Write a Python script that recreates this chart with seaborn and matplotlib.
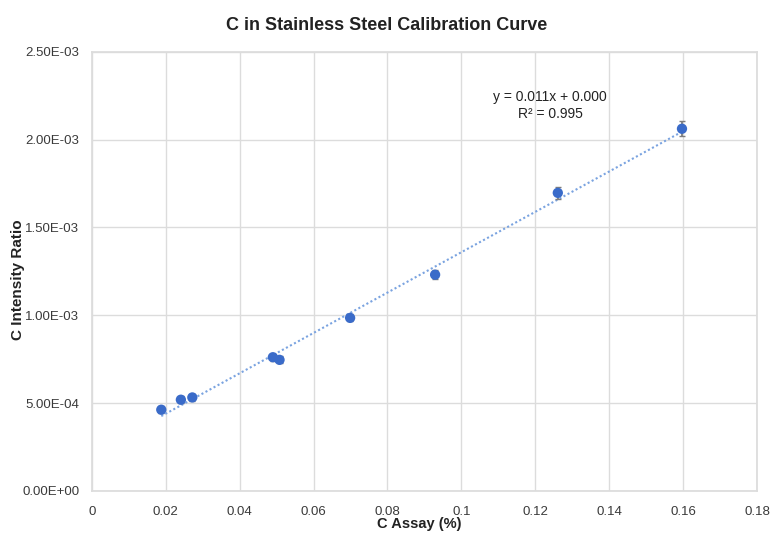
import numpy as np
import pandas as pd
import matplotlib
matplotlib.use("Agg")
import matplotlib.pyplot as plt
import seaborn as sns

# data
c_assay = [0.0188, 0.0241, 0.0272, 0.0490, 0.0508, 0.0699, 0.0929, 0.1261, 0.1597]
intensity = [4.62e-4, 5.19e-4, 5.32e-4, 7.61e-4, 7.46e-4, 9.85e-4, 1.231e-3, 1.697e-3, 2.062e-3]
err = [2e-5, 2e-5, 2e-5, 2e-5, 2e-5, 2e-5, 2.5e-5, 3.5e-5, 4.3e-5]
x_ticks = [0, 0.02, 0.04, 0.06, 0.08, 0.1, 0.12, 0.14, 0.16, 0.18]
x_labels = ["0", "0.02", "0.04", "0.06", "0.08", "0.1", "0.12", "0.14", "0.16", "0.18"]
y_ticks = [0, 5e-4, 1e-3, 1.5e-3, 2e-3, 2.5e-3]
y_labels = ["0.00E+00", "5.00E-04", "1.00E-03", "1.50E-03", "2.00E-03", "2.50E-03"]

df = pd.DataFrame({"x": c_assay, "y": intensity})

sns.set_theme(style="whitegrid")
plt.rcParams["font.family"] = ["Liberation Sans", "DejaVu Sans"]

fig = plt.figure(figsize=(7.78, 5.40), dpi=100)
ax = fig.add_axes([0.118, 0.091, 0.855, 0.813])

# linear trendline
m, b = np.polyfit(df["x"], df["y"], 1)
trend = pd.DataFrame({"x": [min(c_assay), max(c_assay)]})
trend["y"] = m * trend["x"] + b
sns.lineplot(data=trend, x="x", y="y", ax=ax, color="#7aa3e0", linestyle=(0, (1, 1.2)),
             linewidth=1.5, zorder=2)

ax.errorbar(c_assay, intensity, yerr=err, fmt="none", ecolor="#7d7d7d", elinewidth=1.3,
            capsize=2, zorder=3)
sns.scatterplot(data=df, x="x", y="y", ax=ax, color="#3a6bc9", s=55, edgecolor="none",
                zorder=4)

ax.set_xlim(0, 0.18)
ax.set_ylim(0, 2.5e-3)
ax.set_xticks(x_ticks)
ax.set_xticklabels(x_labels, fontsize=9.5, color="#3a3a3a")
ax.set_yticks(y_ticks)
ax.set_yticklabels(y_labels, fontsize=9.5, color="#3a3a3a")
ax.tick_params(axis="x", pad=5)
ax.tick_params(axis="y", pad=3)
ax.grid(True, color="#dcdcdc", linewidth=1)
for s in ax.spines.values():
    s.set_color("#dcdcdc")

ax.set_xlabel("C Assay (%)", fontsize=10.5, fontweight="bold", color="#222222")
ax.xaxis.set_label_coords(0.493, -0.06)
ax.set_ylabel("C Intensity Ratio", fontsize=11, fontweight="bold", color="#222222")
ax.yaxis.set_label_coords(-0.101, 0.48)
fig.text(0.497, 0.953, "C in Stainless Steel Calibration Curve", fontsize=13,
         fontweight="bold", color="#222222", ha="center", va="center")

ax.text(0.124, 2.193e-3, "y = 0.011x + 0.000\nR² = 0.995", ha="center", va="center",
        fontsize=10, color="#222222", linespacing=1.25)

fig.savefig("out.png", dpi=100)
